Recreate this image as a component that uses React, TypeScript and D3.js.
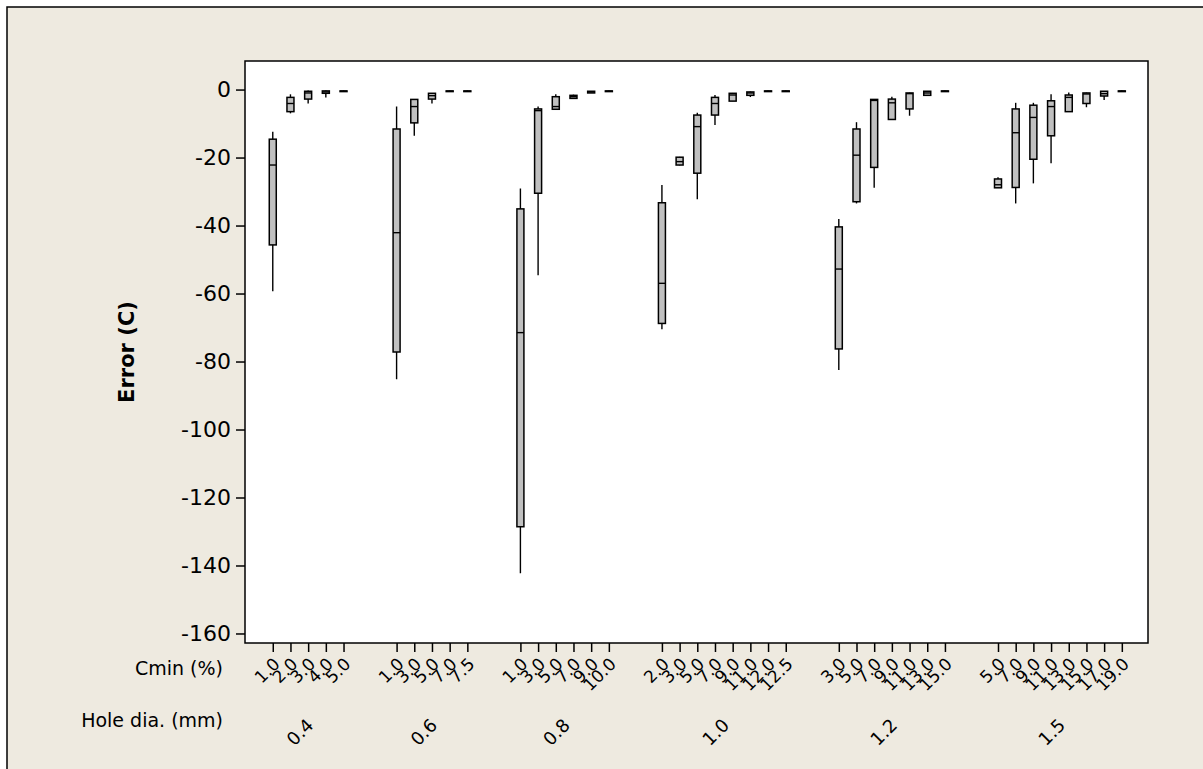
import { useEffect, useRef } from 'react';
import * as d3 from 'd3';

// hole diameter groups and the Cmin levels inside each
const holeDia = ["0.4", "0.6", "0.8", "1.0", "1.2", "1.5"];
const cminLevels = [
  ["1.0", "2.0", "3.0", "4.0", "5.0"],
  ["1.0", "3.0", "5.0", "7.0", "7.5"],
  ["1.0", "3.0", "5.0", "7.0", "9.0", "10.0"],
  ["2.0", "3.0", "5.0", "7.0", "9.0", "11.0", "12.0", "12.5"],
  ["3.0", "5.0", "7.0", "9.0", "11.0", "13.0", "15.0"],
  ["5.0", "7.0", "9.0", "11.0", "13.0", "15.0", "17.0", "19.0"],
];

// box stats, one entry per box in the order above
const whiskerTop = [
  -12.4, -1.4, -0.3, -0.3, -0.3,
  -5.0, -2.8, -1.0, -0.3, -0.3,
  -29.1, -5.0, -1.4, -1.5, -0.4, -0.3,
  -28.1, -19.8, -6.8, -1.6, -1.0, -0.6, -0.3, -0.3,
  -38.1, -9.6, -2.8, -2.1, -0.9, -0.4, -0.3,
  -25.8, -3.9, -3.9, -1.4, -0.9, -0.9, -0.4, -0.3,
];
const q3 = [
  -14.6, -2.3, -0.5, -0.4, -0.4,
  -11.6, -2.9, -1.1, -0.4, -0.4,
  -35.1, -5.7, -2.1, -1.7, -0.5, -0.4,
  -33.3, -19.9, -7.5, -2.3, -1.1, -0.7, -0.4, -0.4,
  -40.4, -11.6, -2.9, -2.8, -1.0, -0.5, -0.4,
  -26.3, -5.7, -4.6, -3.3, -1.6, -1.0, -0.5, -0.4,
];
const median = [
  -22.2, -4.1, -1.0, -0.7, -0.5,
  -42.1, -5.0, -1.8, -0.5, -0.5,
  -71.5, -6.2, -5.0, -2.1, -0.7, -0.5,
  -57.0, -21.2, -10.9, -4.1, -1.6, -1.0, -0.5, -0.5,
  -52.8, -19.3, -3.2, -3.9, -1.2, -1.0, -0.5,
  -28.0, -12.7, -8.2, -5.0, -2.3, -1.3, -1.2, -0.5,
];
const q1 = [
  -45.7, -6.5, -2.8, -1.1, -0.6,
  -77.2, -9.8, -2.8, -0.6, -0.6,
  -128.6, -30.5, -5.8, -2.6, -1.0, -0.6,
  -68.8, -22.2, -24.6, -7.5, -3.4, -1.7, -0.6, -0.6,
  -76.3, -33.0, -22.9, -8.8, -5.7, -1.7, -0.6,
  -28.9, -28.8, -20.5, -13.6, -6.5, -4.1, -1.9, -0.6,
];
const whiskerBottom = [
  -59.3, -7.0, -4.1, -2.3, -0.6,
  -85.2, -13.6, -4.1, -0.6, -0.6,
  -142.3, -54.6, -5.8, -2.7, -1.0, -0.6,
  -70.5, -22.3, -32.3, -10.4, -3.4, -2.2, -0.6, -0.6,
  -82.5, -33.5, -28.9, -8.8, -7.7, -1.7, -0.6,
  -28.9, -33.5, -27.6, -21.7, -6.5, -5.2, -3.1, -0.6,
];

const yTicks = [0, -20, -40, -60, -80, -100, -120, -140, -160];

const FONT = "'DejaVu Sans', Verdana, sans-serif";

function App() {
  const svgRef = useRef<SVGSVGElement>(null);

  useEffect(() => {
    if (!svgRef.current) return;
    d3.select(svgRef.current).selectAll("*").remove();

    const W = 1203, H = 769;
    const plot = { left: 245, top: 61, right: 1148, bottom: 643 };
    const gap = 2; // empty slots between hole groups

    // slot index for every box
    const boxes: { slot: number; label: string; i: number }[] = [];
    const groupCenters: number[] = [];
    let slot = 0, idx = 0;
    cminLevels.forEach((levels, g) => {
      const start = slot;
      levels.forEach(l => {
        boxes.push({ slot, label: l, i: idx });
        slot++; idx++;
      });
      groupCenters.push((start + slot - 1) / 2);
      if (g < cminLevels.length - 1) slot += gap;
    });

    const x = d3.scaleLinear().domain([-1.57, 49.48]).range([plot.left, plot.right]);
    const y = d3.scaleLinear().domain([-162.8, 8.4]).range([plot.bottom, plot.top]);

    const svg = d3.select(svgRef.current).attr("width", W).attr("height", H);

    // figure background
    svg.append("rect").attr("x", 0).attr("y", 0).attr("width", W).attr("height", H).attr("fill", "#ffffff");
    svg.append("rect")
      .attr("x", 7).attr("y", 7).attr("width", W).attr("height", H)
      .attr("fill", "#eeeae0").attr("stroke", "#000").attr("stroke-width", 1.5);

    svg.append("rect")
      .attr("x", plot.left).attr("y", plot.top)
      .attr("width", plot.right - plot.left).attr("height", plot.bottom - plot.top)
      .attr("fill", "#ffffff");

    // y axis
    const yAxis = d3.axisLeft(y).tickValues(yTicks).tickSize(9).tickPadding(5).tickFormat(d => `${d}`);
    const gy = svg.append("g").attr("transform", `translate(${plot.left},0)`).call(yAxis);
    gy.select(".domain").remove();
    gy.selectAll(".tick line").attr("stroke", "#000").attr("stroke-width", 1.5);
    gy.selectAll(".tick text").attr("fill", "#000").style("font-family", FONT).style("font-size", "22px");

    // x axis ticks (one per box)
    const xAxis = d3.axisBottom(x).tickValues(boxes.map(b => b.slot)).tickSize(9).tickFormat(() => "");
    const gx = svg.append("g").attr("transform", `translate(0,${plot.bottom})`).call(xAxis);
    gx.select(".domain").remove();
    gx.selectAll(".tick line").attr("stroke", "#000").attr("stroke-width", 1.5);

    // Cmin labels, rotated
    svg.append("g").selectAll("text")
      .data(boxes)
      .enter().append("text")
      .attr("transform", d => `translate(${x(d.slot) + 4},${plot.bottom + 18}) rotate(-45)`)
      .attr("text-anchor", "end")
      .attr("dy", "0.35em")
      .style("font-family", FONT)
      .style("font-size", "17px")
      .attr("fill", "#000")
      .text(d => d.label);

    // hole dia labels
    svg.append("g").selectAll("text")
      .data(holeDia)
      .enter().append("text")
      .attr("transform", (d, i) => `translate(${x(groupCenters[i]) + 2},${plot.bottom + 79}) rotate(-45)`)
      .attr("text-anchor", "end")
      .attr("dy", "0.35em")
      .style("font-family", FONT)
      .style("font-size", "18px")
      .attr("fill", "#000")
      .text(d => d);

    svg.append("text")
      .attr("x", 223).attr("y", plot.bottom + 25)
      .attr("text-anchor", "end").attr("dy", "0.35em")
      .style("font-family", FONT).style("font-size", "19px")
      .text("Cmin (%)");
    svg.append("text")
      .attr("x", 223).attr("y", plot.bottom + 77)
      .attr("text-anchor", "end").attr("dy", "0.35em")
      .style("font-family", FONT).style("font-size", "19px")
      .text("Hole dia. (mm)");

    svg.append("text")
      .attr("transform", `translate(127,${(plot.top + plot.bottom) / 2}) rotate(-90)`)
      .attr("text-anchor", "middle").attr("dy", "0.35em")
      .style("font-family", FONT).style("font-size", "21px").style("font-weight", "bold")
      .text("Error (C)");

    // boxes
    const bw = 7;
    const gb = svg.append("g");
    gb.selectAll(".whisker")
      .data(boxes)
      .enter().append("line")
      .attr("x1", d => x(d.slot)).attr("x2", d => x(d.slot))
      .attr("y1", d => y(whiskerTop[d.i])).attr("y2", d => y(whiskerBottom[d.i]))
      .attr("stroke", "#000").attr("stroke-width", 1.4);
    gb.selectAll(".box")
      .data(boxes)
      .enter().append("rect")
      .attr("x", d => x(d.slot) - bw / 2)
      .attr("y", d => y(q3[d.i]))
      .attr("width", bw)
      .attr("height", d => Math.max(0.5, y(q1[d.i]) - y(q3[d.i])))
      .attr("fill", "#c0c0c0").attr("stroke", "#000").attr("stroke-width", 1.5);
    gb.selectAll(".median")
      .data(boxes)
      .enter().append("line")
      .attr("x1", d => x(d.slot) - bw / 2).attr("x2", d => x(d.slot) + bw / 2)
      .attr("y1", d => y(median[d.i])).attr("y2", d => y(median[d.i]))
      .attr("stroke", "#000").attr("stroke-width", 1.4);

    // plot frame
    svg.append("rect")
      .attr("x", plot.left).attr("y", plot.top)
      .attr("width", plot.right - plot.left).attr("height", plot.bottom - plot.top)
      .attr("fill", "none").attr("stroke", "#000").attr("stroke-width", 1.5);
  }, []);

  return (
    <div style={{ position: 'absolute', left: 0, top: 0 }}>
      <svg ref={svgRef} style={{ display: 'block' }}></svg>
    </div>
  );
}

export default App;
